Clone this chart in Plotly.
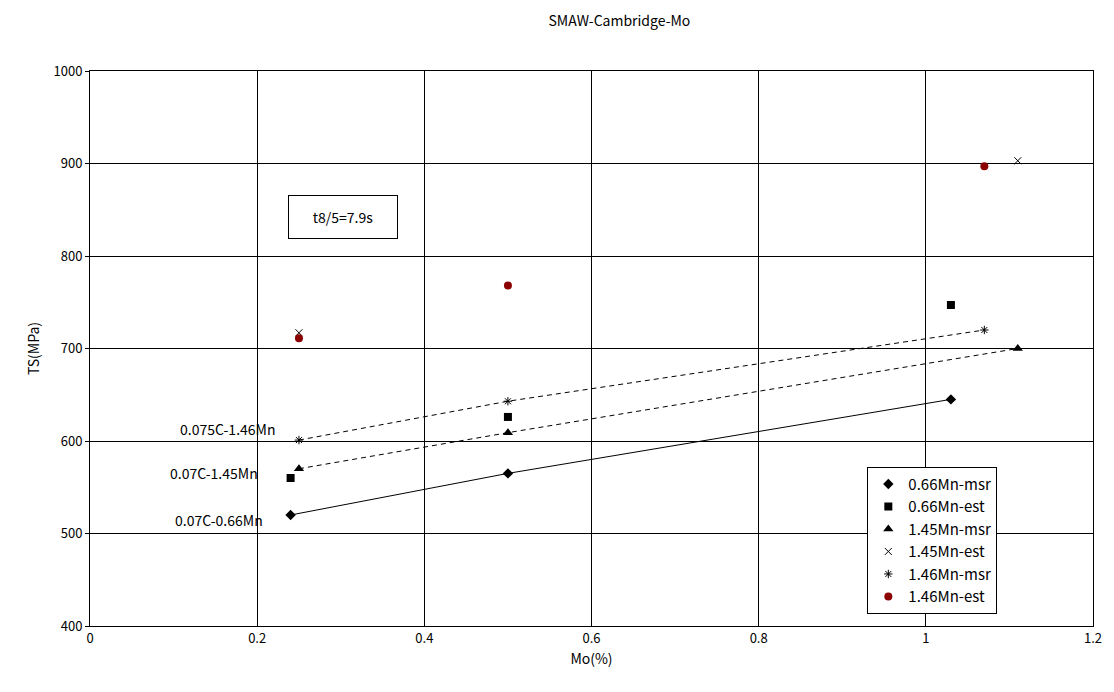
import plotly.graph_objects as go

# Data
mo_066_msr = [0.24, 0.50, 1.03]
ts_066_msr = [520, 565, 645]
mo_066_est = [0.24, 0.50, 1.03]
ts_066_est = [560, 626, 747]
mo_145_msr = [0.25, 0.50, 1.11]
ts_145_msr = [570, 609, 700]
mo_145_est = [0.25, 1.11]
ts_145_est = [717, 903]
mo_146_msr = [0.25, 0.50, 1.07]
ts_146_msr = [601, 643, 720]
mo_146_est = [0.25, 0.50, 1.07]
ts_146_est = [711, 768, 897]

FONT = "Noto Sans CJK JP, DejaVu Sans, sans-serif"

fig = go.Figure()
# connecting lines (not in legend)
fig.add_trace(go.Scatter(x=mo_066_msr, y=ts_066_msr, mode="lines", showlegend=False, hoverinfo="skip",
                         line=dict(color="black", width=1)))
fig.add_trace(go.Scatter(x=mo_145_msr, y=ts_145_msr, mode="lines", showlegend=False, hoverinfo="skip",
                         line=dict(color="black", width=1, dash="5px,4px")))
fig.add_trace(go.Scatter(x=mo_146_msr, y=ts_146_msr, mode="lines", showlegend=False, hoverinfo="skip",
                         line=dict(color="black", width=1, dash="5px,4px")))

fig.add_trace(go.Scatter(x=mo_066_msr, y=ts_066_msr, mode="markers", name="0.66Mn-msr",
                         marker=dict(symbol="diamond", size=8, color="black")))
fig.add_trace(go.Scatter(x=mo_066_est, y=ts_066_est, mode="markers", name="0.66Mn-est",
                         marker=dict(symbol="square", size=8, color="black")))
fig.add_trace(go.Scatter(x=mo_145_msr, y=ts_145_msr, mode="markers", name="1.45Mn-msr",
                         marker=dict(symbol="triangle-up", size=9, color="black")))
fig.add_trace(go.Scatter(x=mo_145_est, y=ts_145_est, mode="markers", name="1.45Mn-est",
                         marker=dict(symbol="x-thin", size=7, line=dict(color="black", width=1))))
fig.add_trace(go.Scatter(x=mo_146_msr, y=ts_146_msr, mode="markers", name="1.46Mn-msr",
                         marker=dict(symbol="asterisk", size=7, line=dict(color="black", width=1))))
fig.add_trace(go.Scatter(x=mo_146_est, y=ts_146_est, mode="markers", name="1.46Mn-est",
                         marker=dict(symbol="circle", size=8, color="#8B0000")))

# Series labels
fig.add_annotation(x=0.224, y=613, text="0.075C-1.46Mn", showarrow=False, xanchor="right",
                   font=dict(size=14, color="black", family=FONT))
fig.add_annotation(x=0.203, y=565, text="0.07C-1.45Mn", showarrow=False, xanchor="right",
                   font=dict(size=14, color="black", family=FONT))
fig.add_annotation(x=0.209, y=515, text="0.07C-0.66Mn", showarrow=False, xanchor="right",
                   font=dict(size=14, color="black", family=FONT))

fig.add_annotation(x=0.303, y=842, xref="x", yref="y", text="t8/5=7.9s", showarrow=False,
                   font=dict(size=14, color="black", family=FONT),
                   width=88, height=22, align="center",
                   bordercolor="black", borderwidth=1, borderpad=10, bgcolor="white")

fig.update_layout(
    width=1114, height=692,
    margin=dict(l=90, r=18, t=71, b=66),
    paper_bgcolor="white", plot_bgcolor="white",
    font=dict(family=FONT, size=13, color="black"),
    title=dict(text="SMAW-Cambridge-Mo", x=0.556, xanchor="center", y=0.97, yanchor="middle",
               font=dict(size=14, family=FONT, color="black")),
    xaxis=dict(range=[0, 1.2], dtick=0.2, showgrid=True, gridcolor="black", gridwidth=1,
               showline=True, linecolor="black", linewidth=1, mirror=True, zeroline=False,
               ticks="", title=dict(text="Mo(%)", standoff=8, font=dict(size=14))),
    yaxis=dict(range=[400, 1000], dtick=100, showgrid=True, gridcolor="black", gridwidth=1,
               showline=True, linecolor="black", linewidth=1, mirror=True, zeroline=False,
               ticks="outside", ticklen=4, tickcolor="black",
               title=dict(text="TS(MPa)", standoff=10, font=dict(size=14))),
    legend=dict(x=0.775, y=0.287, xanchor="left", yanchor="top", bordercolor="black", borderwidth=1,
                bgcolor="white", font=dict(size=15, family=FONT), tracegroupgap=0,
                itemwidth=30),
    showlegend=True,
)

fig.write_html("out.html")
